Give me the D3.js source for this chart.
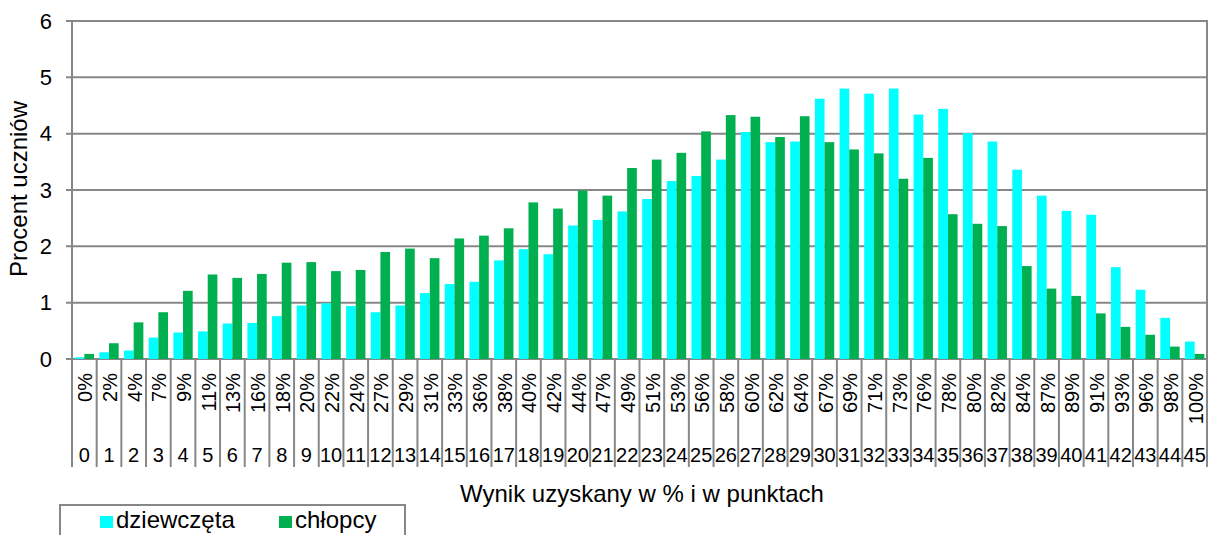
<!DOCTYPE html>
<meta charset="utf-8">
<style>
  body { margin: 0; background: #fff; }
  text { font-family: "Liberation Sans", Arial, sans-serif; fill: #000; }
</style>
<script src="https://d3js.org/d3.v7.min.js"></script>
<div id="chart"></div>
<script>
    // data
    const points = ["0","1","2","3","4","5","6","7","8","9","10","11","12","13","14","15","16","17","18","19","20","21","22",
                    "23","24","25","26","27","28","29","30","31","32","33","34","35","36","37","38","39","40","41","42","43","44","45"];
    const percents = ["0%","2%","4%","7%","9%","11%","13%","16%","18%","20%","22%","24%","27%","29%","31%","33%","36%","38%",
                      "40%","42%","44%","47%","49%","51%","53%","56%","58%","60%","62%","64%","67%","69%","71%","73%","76%",
                      "78%","80%","82%","84%","87%","89%","91%","93%","96%","98%","100%"];
    const girls = [0.03,0.12,0.15,0.38,0.47,0.49,0.63,0.64,0.76,0.95,0.99,0.94,0.83,0.95,1.17,1.33,1.37,1.75,1.95,1.86,
                   2.37,2.47,2.62,2.84,3.16,3.25,3.54,4.03,3.85,3.86,4.62,4.80,4.71,4.80,4.34,4.44,4.01,3.86,3.36,2.90,
                   2.63,2.56,1.63,1.23,0.73,0.31];
    const boys = [0.09,0.28,0.65,0.83,1.21,1.50,1.44,1.51,1.71,1.72,1.56,1.58,1.90,1.96,1.79,2.14,2.19,2.32,2.78,2.67,
                  2.99,2.90,3.39,3.54,3.66,4.04,4.33,4.30,3.94,4.31,3.85,3.72,3.65,3.20,3.57,2.57,2.40,2.36,1.65,1.25,
                  1.12,0.81,0.57,0.43,0.22,0.09];
    const seriesNames = ["dziewczęta", "chłopcy"];
    const colors = ["#00ffff", "#00b050"];

    const W = 1208, H = 535;
    const margin = {top: 21, left: 72, right: 1, bottom: 176};
    const width = W - margin.left - margin.right;
    const height = H - margin.top - margin.bottom;
    const grey = "#878787";

    const svg = d3.select("#chart").append("svg")
        .attr("width", W).attr("height", H);
    const g = svg.append("g")
        .attr("transform", "translate(" + margin.left + "," + margin.top + ")");

    const x = d3.scaleBand().domain(points).range([0, width]);
    const x1 = d3.scaleBand().domain(seriesNames).range([0, x.bandwidth()]).paddingOuter(0.18 / 0.65);
    const y = d3.scaleLinear().domain([0, 6]).range([height, 0]);

    // gridlines
    g.selectAll(".grid").data(y.ticks(6)).enter().append("line")
        .attr("x1", -6).attr("x2", width)
        .attr("y1", d => y(d)).attr("y2", d => y(d))
        .attr("stroke", grey).attr("stroke-width", 2);

    // frame
    g.append("rect").attr("width", width).attr("height", height)
        .attr("fill", "none").attr("stroke", grey).attr("stroke-width", 2);

    // y axis labels
    const yAxis = g.append("g").call(d3.axisLeft(y).ticks(6).tickSize(0).tickPadding(20));
    yAxis.select(".domain").remove();
    yAxis.selectAll("text").attr("font-size", "22px").attr("font-family", "Liberation Sans, Arial, sans-serif");

    // bars
    const rows = points.map((p, i) => ({p: p, vals: [girls[i], boys[i]]}));
    const grp = g.selectAll(".cat").data(rows).enter().append("g")
        .attr("transform", d => "translate(" + x(d.p) + ",0)");
    grp.selectAll("rect").data(d => d.vals.map((v, k) => ({k: k, v: v}))).enter().append("rect")
        .attr("x", d => x1(seriesNames[d.k]))
        .attr("width", x1.bandwidth())
        .attr("y", d => y(d.v))
        .attr("height", d => height - y(d.v))
        .attr("fill", d => colors[d.k]);

    // category separators below axis
    const sepBottom = 108;
    const bounds = points.map(p => x(p)).concat([width]);
    g.selectAll(".sep").data(bounds).enter().append("line")
        .attr("x1", d => d).attr("x2", d => d)
        .attr("y1", height).attr("y2", height + sepBottom)
        .attr("stroke", grey).attr("stroke-width", 2);

    // percent labels (rotated)
    g.selectAll(".pct").data(percents).enter().append("text")
        .attr("transform", (d, i) => "translate(" + (x(points[i]) + x.bandwidth() / 2 + 8) + "," + (height + 14) + ") rotate(-90)")
        .attr("text-anchor", "end")
        .attr("font-size", "20px")
        .text(d => d);

    // point labels
    g.selectAll(".pts").data(points).enter().append("text")
        .attr("x", d => x(d) + x.bandwidth() / 2)
        .attr("y", height + 103)
        .attr("text-anchor", "middle")
        .attr("font-size", "20px")
        .text(d => d);

    // axis titles
    svg.append("text")
        .attr("x", 642).attr("y", 502)
        .attr("text-anchor", "middle").attr("font-size", "24px")
        .text("Wynik uzyskany w % i w punktach");
    svg.append("text")
        .attr("transform", "translate(27," + (margin.top + height / 2 - 1) + ") rotate(-90)")
        .attr("text-anchor", "middle").attr("font-size", "24px")
        .text("Procent uczniów");

    // legend
    const leg = svg.append("g");
    leg.append("rect").attr("x", 60).attr("y", 505).attr("width", 345).attr("height", 40)
        .attr("fill", "#fff").attr("stroke", grey).attr("stroke-width", 2);
    const legX = [100, 279];
    seriesNames.forEach((s, i) => {
        leg.append("rect").attr("x", legX[i]).attr("y", 516).attr("width", 13).attr("height", 12)
            .attr("fill", colors[i]);
        leg.append("text").attr("x", legX[i] + 16).attr("y", 528)
            .attr("font-size", "24px").text(s);
    });
</script>
